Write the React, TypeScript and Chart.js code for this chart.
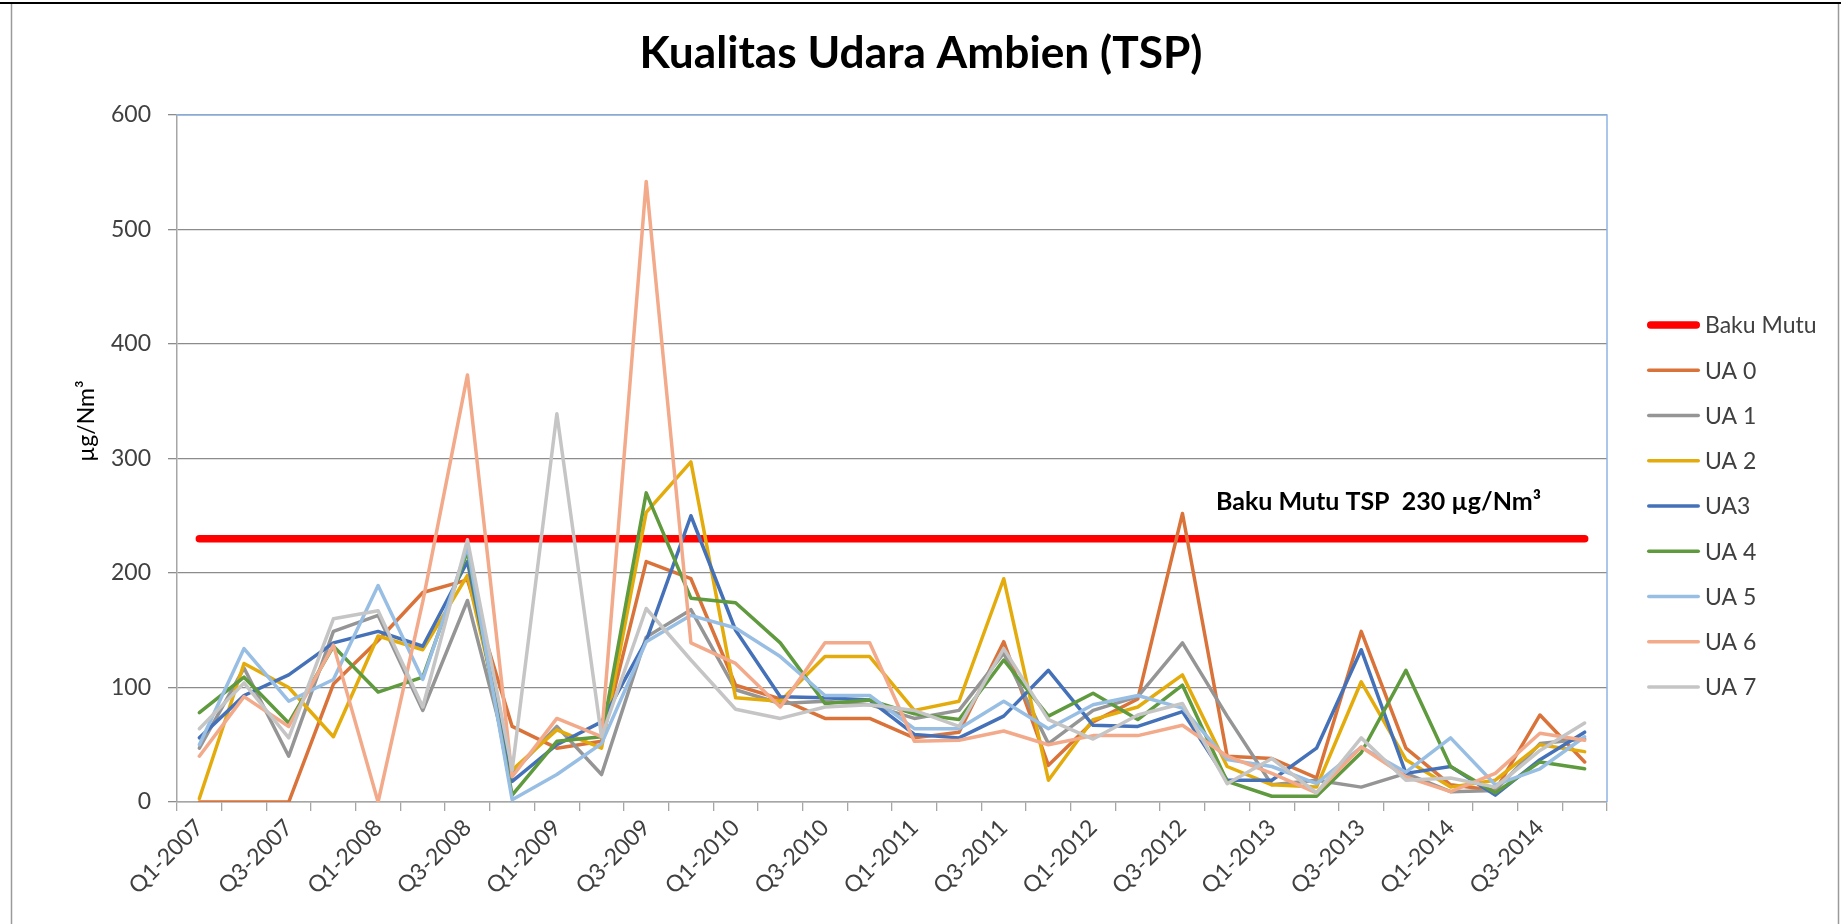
import React, { useEffect, useRef } from 'react';
import { Chart, registerables } from 'chart.js';

Chart.register(...registerables);

const W = 1841;
const H = 924;

const categories = [
  'Q1-2007', 'Q2-2007', 'Q3-2007', 'Q4-2007',
  'Q1-2008', 'Q2-2008', 'Q3-2008', 'Q4-2008',
  'Q1-2009', 'Q2-2009', 'Q3-2009', 'Q4-2009',
  'Q1-2010', 'Q2-2010', 'Q3-2010', 'Q4-2010',
  'Q1-2011', 'Q2-2011', 'Q3-2011', 'Q4-2011',
  'Q1-2012', 'Q2-2012', 'Q3-2012', 'Q4-2012',
  'Q1-2013', 'Q2-2013', 'Q3-2013', 'Q4-2013',
  'Q1-2014', 'Q2-2014', 'Q3-2014', 'Q4-2014',
];

const bakuMutu = [
  230, 230, 230, 230, 230, 230, 230, 230, 230, 230, 230, 230, 230, 230, 230, 230,
  230, 230, 230, 230, 230, 230, 230, 230, 230, 230, 230, 230, 230, 230, 230, 230,
];
const ua0 = [0, 0, 0, 103, 141, 183, 194, 66, 47, 53, 210, 195, 102, 90, 73, 73, 56, 61, 140, 32, 70, 90, 252, 40, 38, 21, 149, 47, 15, 10, 76, 35];
const ua1 = [47, 117, 40, 149, 163, 80, 176, 25, 66, 24, 144, 168, 98, 86, 88, 85, 73, 80, 130, 51, 80, 92, 139, 75, 15, 19, 13, 25, 9, 10, 51, 55];
const ua2 = [3, 121, 100, 57, 145, 133, 198, 28, 63, 47, 253, 297, 91, 88, 127, 127, 80, 88, 195, 19, 72, 83, 111, 31, 15, 13, 105, 37, 13, 19, 50, 44];
const ua3 = [56, 93, 111, 139, 149, 136, 210, 18, 50, 70, 141, 250, 150, 92, 91, 89, 59, 56, 75, 115, 67, 66, 79, 19, 19, 47, 133, 25, 31, 6, 37, 61];
const ua4 = [78, 109, 69, 136, 96, 109, 219, 6, 53, 57, 270, 178, 174, 139, 86, 89, 77, 72, 124, 75, 95, 72, 102, 18, 5, 5, 43, 115, 31, 8, 35, 29];
const ua5 = [50, 134, 88, 107, 189, 107, 223, 2, 24, 51, 140, 163, 152, 127, 93, 93, 64, 64, 88, 64, 85, 93, 82, 37, 31, 16, 48, 26, 56, 15, 29, 57];
const ua6 = [40, 92, 66, 137, 0, 175, 373, 22, 73, 57, 542, 139, 121, 83, 139, 139, 53, 54, 62, 50, 58, 58, 67, 40, 25, 8, 48, 22, 9, 25, 60, 54];
const ua7 = [64, 104, 56, 160, 167, 83, 229, 28, 339, 57, 169, 124, 81, 73, 83, 85, 80, 66, 134, 72, 55, 76, 86, 16, 38, 8, 56, 19, 21, 13, 45, 69];

const seriesNames = ['Baku Mutu', 'UA 0', 'UA 1', 'UA 2', 'UA3', 'UA 4', 'UA 5', 'UA 6', 'UA 7'];
const seriesValues = [bakuMutu, ua0, ua1, ua2, ua3, ua4, ua5, ua6, ua7];
const seriesColors = ['#FF0000', '#D9733A', '#959595', '#E3AC0C', '#4571B8', '#5F9A3E', '#98BEE4', '#F2AA8A', '#C5C5C5'];

const yTicks = [0, 100, 200, 300, 400, 500, 600];

const TITLE = 'Kualitas Udara Ambien (TSP)';
const Y_TITLE = 'µg/Nm³';
const NOTE = 'Baku Mutu TSP  230 µg/Nm³';
const FONT = 'Lato';

function fitFont(ctx: CanvasRenderingContext2D, text: string, weight: string, target: number) {
  ctx.font = `${weight} 100px ${FONT}`;
  const w = ctx.measureText(text).width;
  const size = (100 * target) / w;
  return `${weight} ${size.toFixed(2)}px ${FONT}`;
}

const decorPlugin = {
  id: 'decor',
  beforeDraw(chart: any) {
    const ctx = chart.ctx as CanvasRenderingContext2D;
    ctx.save();
    ctx.fillStyle = '#FFFFFF';
    ctx.fillRect(0, 0, W, H);
    ctx.fillStyle = '#000000';
    ctx.fillRect(0, 2, W, 2);
    ctx.strokeStyle = '#9A9A9A';
    ctx.lineWidth = 1.5;
    ctx.beginPath();
    ctx.moveTo(11.5, 4);
    ctx.lineTo(11.5, H);
    ctx.moveTo(1838.5, 4);
    ctx.lineTo(1838.5, H);
    ctx.stroke();
    ctx.restore();
  },
  beforeDatasetsDraw(chart: any) {
    const ctx = chart.ctx as CanvasRenderingContext2D;
    const a = chart.chartArea;
    ctx.save();
    ctx.strokeStyle = '#8EB4E3';
    ctx.lineWidth = 1.5;
    ctx.beginPath();
    ctx.moveTo(a.left, a.top);
    ctx.lineTo(a.right, a.top);
    ctx.lineTo(a.right, a.bottom);
    ctx.stroke();
    ctx.restore();
  },
  afterDraw(chart: any) {
    const ctx = chart.ctx as CanvasRenderingContext2D;
    const xs = chart.scales.x;
    const ys = chart.scales.y;
    ctx.save();
    // title
    ctx.fillStyle = '#000000';
    ctx.font = fitFont(ctx, TITLE, 'bold', 563);
    ctx.textAlign = 'center';
    ctx.textBaseline = 'alphabetic';
    ctx.fillText(TITLE, 921, 68);

    // y axis title
    ctx.save();
    ctx.translate(94, 421);
    ctx.rotate(-Math.PI / 2);
    ctx.font = `23px ${FONT}`;
    ctx.textAlign = 'center';
    ctx.textBaseline = 'alphabetic';
    ctx.fillText(Y_TITLE, 0, 0);
    ctx.restore();

    // note
    ctx.font = fitFont(ctx, NOTE, 'bold', 325);
    ctx.textAlign = 'left';
    ctx.textBaseline = 'alphabetic';
    ctx.fillText(NOTE, xs.getPixelForValue(22.75), ys.getPixelForValue(255));

    // legend
    ctx.font = `23px ${FONT}`;
    ctx.textBaseline = 'middle';
    chart.data.datasets.forEach((ds: any, i: number) => {
      const y = 325 + 45.25 * i;
      ctx.strokeStyle = ds.borderColor;
      ctx.lineWidth = ds.borderWidth;
      ctx.lineCap = 'round';
      ctx.beginPath();
      const inset = ds.borderWidth / 2;
      ctx.moveTo(1647 + inset, y);
      ctx.lineTo(1700 - inset, y);
      ctx.stroke();
      ctx.fillStyle = '#404040';
      ctx.fillText(ds.label, 1705, y + 1);
    });
    ctx.restore();
  },
};

export default function App() {
  const ref = useRef<HTMLCanvasElement | null>(null);

  useEffect(() => {
    if (!ref.current) return;
    const datasets = seriesNames.map((name, i) => ({
      label: name,
      data: seriesValues[i],
      borderColor: seriesColors[i],
      backgroundColor: seriesColors[i],
      borderWidth: i === 0 ? 7.5 : 3.5,
      pointRadius: 0,
      pointHoverRadius: 0,
      tension: 0,
      fill: false,
      borderCapStyle: 'round' as const,
      borderJoinStyle: 'round' as const,
      order: seriesNames.length - i,
    }));

    const chart = new Chart(ref.current, {
      type: 'line',
      data: { labels: categories, datasets },
      plugins: [decorPlugin],
      options: {
        animation: false,
        responsive: false,
        devicePixelRatio: 1,
        layout: { padding: { top: 115, right: 234, left: 0, bottom: 0 } },
        plugins: {
          legend: { display: false },
          title: { display: false },
          tooltip: { enabled: false },
        },
        scales: {
          x: {
            type: 'category',
            offset: true,
            grid: {
              display: true,
              drawOnChartArea: false,
              drawTicks: true,
              tickLength: 9,
              color: '#A6A6A6',
              lineWidth: 1.3,
              offset: true,
            },
            border: { display: true, color: '#A6A6A6', width: 1.5 },
            ticks: {
              autoSkip: false,
              minRotation: 45,
              maxRotation: 45,
              padding: 3,
              color: '#404040',
              font: { family: FONT, size: 23 },
              callback: (_v: any, idx: number) => (idx % 2 === 0 ? categories[idx] : ''),
            },
            afterFit: (scale: any) => {
              scale.height = H - 802;
            },
          },
          y: {
            min: 0,
            max: 600,
            afterBuildTicks: (scale: any) => {
              scale.ticks = yTicks.map((v) => ({ value: v }));
            },
            grid: {
              color: '#8C8C8C',
              lineWidth: 1.3,
              drawTicks: true,
              tickLength: 9,
            },
            border: { display: true, color: '#A6A6A6', width: 1.5 },
            ticks: {
              padding: 17,
              color: '#404040',
              font: { family: FONT, size: 23 },
            },
            afterFit: (scale: any) => {
              scale.width = 177;
            },
          },
        },
      },
    });
    return () => chart.destroy();
  }, []);

  return (
    <div style={{ position: 'absolute', left: 0, top: 0, width: W, height: H, background: '#fff' }}>
      <canvas ref={ref} width={W} height={H} style={{ display: 'block', width: W, height: H }} />
    </div>
  );
}
